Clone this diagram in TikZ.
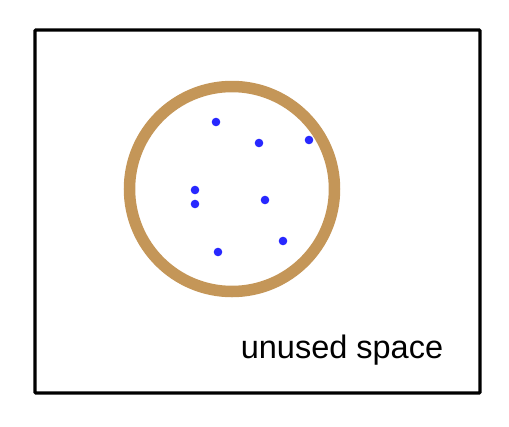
\documentclass[tikz,border=0pt]{standalone}
\usepackage{fontspec}
\setmainfont{Liberation Sans}
\usetikzlibrary{positioning}
\definecolor{ringtan}{RGB}{196,150,88}
\definecolor{dotblue}{RGB}{40,40,255}

\begin{document}
\begin{tikzpicture}[x=1pt,y=-1pt]
\useasboundingbox (0,0) rectangle (509,426);
\draw[line width=3.2pt, rounded corners=1pt] (35,30) rectangle (480,393);
\draw[ringtan, line width=11.5pt] (232,189) circle (102.5);
\foreach \px/\py [count=\i] in {216/122, 259/143, 309/140, 195/190, 195/204, 265/200, 283/241, 218/252}
  \fill[dotblue] (\px,\py) circle (4.3) coordinate (pt\i);
\node[font=\fontsize{32.5}{38}\selectfont, anchor=base] (unused) at (342,358) {unused space};

\end{tikzpicture}
\end{document}
